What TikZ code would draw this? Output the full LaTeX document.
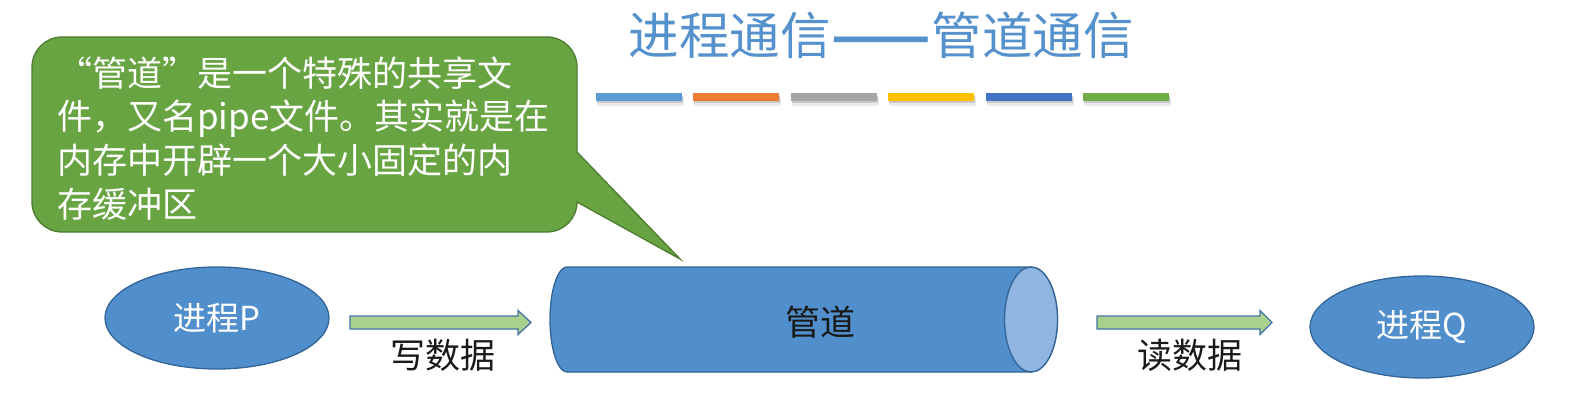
\documentclass[tikz,border=0pt]{standalone}
\usepackage{fontspec}
\usepackage{graphicx}
\setmainfont{Noto Sans CJK SC}
\usetikzlibrary{shapes.geometric}
\definecolor{titleblue}{RGB}{85,146,205}
\definecolor{pipeblue}{RGB}{80,142,204}
\definecolor{pipeborder}{RGB}{50,100,150}
\definecolor{capblue}{RGB}{143,181,224}
\definecolor{arrowgreen}{RGB}{169,209,142}
\definecolor{arrowborder}{RGB}{70,118,165}
\definecolor{callgreen}{RGB}{104,164,66}
\definecolor{callborder}{RGB}{78,124,48}
\definecolor{labelblack}{RGB}{25,25,25}
\definecolor{barblue}{RGB}{91,155,213}
\definecolor{barorange}{RGB}{237,125,49}
\definecolor{bargray}{RGB}{165,165,165}
\definecolor{baryellow}{RGB}{255,192,0}
\definecolor{bardarkblue}{RGB}{68,114,196}
\definecolor{bargreen}{RGB}{112,173,71}
\begin{document}
\begin{tikzpicture}[x=1pt,y=-1pt,
  proc/.style={ellipse, draw=pipeborder, line width=1.3pt, fill=pipeblue,
    minimum width=224pt, minimum height=102pt, inner sep=0pt, text=white,
    font=\fontsize{33}{36}\selectfont},
  lbl/.style={font=\fontsize{35}{40}\selectfont, text=labelblack, inner sep=0pt},
  calltext/.style={font=\fontsize{35}{40}\selectfont, text=white, inner sep=0pt, anchor=base west},
  blockarrow/.style={draw=arrowborder, line width=1.3pt, fill=arrowgreen, line join=miter},
  callout/.style={draw=callborder, line width=1.3pt, fill=callgreen, line join=miter},
  pipebody/.style={draw=pipeborder, line width=1.3pt, fill=pipeblue},
  pipecap/.style={draw=pipeborder, line width=1.3pt, fill=capblue}]
\useasboundingbox (0,0) rectangle (1586,406);
\fill[white] (0,0) rectangle (1586,406);

% title
\node[font=\fontsize{50.5}{55}\selectfont, text=titleblue, inner sep=0pt] (title) at (881,35)
  {进程通信\makebox[2em]{\scalebox{1.15}[1]{\bfseries——}}管道通信};

% colour bars
\foreach \c [count=\i from 0] in {barblue,barorange,bargray,baryellow,bardarkblue,bargreen} {
  \fill[black!8] (596+\i*97.4+1,97) rectangle ++(87,9);
  \fill[black!22] (596+\i*97.4+1,96) rectangle ++(86,7);
  \fill[\c] (596+\i*97.4,93) rectangle ++(86,8);
}

% callout
\draw[callout] (577,152) -- (577,67) arc[start angle=0,end angle=-90,radius=30]
  -- (62,37) arc[start angle=-90,end angle=-180,radius=30]
  -- (32,202) arc[start angle=180,end angle=90,radius=30]
  -- (547,232) arc[start angle=90,end angle=0,radius=30]
  -- (680,259) -- cycle;
\node[calltext] (l1) at (57,86.3) {\makebox[1em][r]{“}管道\makebox[1em][l]{”}是一个特殊的共享文};
\node[calltext] (l2) at (57,130) {件，又名pipe文件。其实就是在};
\node[calltext] (l3) at (57,173.7) {内存中开辟一个大小固定的内};
\node[calltext] (l4) at (57,217.4) {存缓冲区};

% processes
\node[proc] (P) at (217,318) {进程P};
\node[proc] (Q) at (1422,327) {进程Q};

% pipe
\draw[pipebody] (567,267) -- (1031,267) arc[start angle=-90,end angle=90,x radius=26.5,y radius=52.5]
  -- (567,372) arc[start angle=90,end angle=270,x radius=17,y radius=52.5] -- cycle;
\draw[pipecap] (1031,319.5) ellipse [x radius=26.5, y radius=52.5];
\node[lbl] (pipe) at (820,322) {管道};

% block arrows
\coordinate (w1) at (350,322.5);
\coordinate (r1) at (1097,322.5);
\draw[blockarrow] (w1) ++(0,-6.5) -- ++(168,0) -- ++(0,-5.5) -- ++(13,12) -- ++(-13,12) -- ++(0,-5.5) -- ++(-168,0) -- cycle;
\draw[blockarrow] (r1) ++(0,-6.5) -- ++(163,0) -- ++(0,-5.5) -- ++(12,12) -- ++(-12,12) -- ++(0,-5.5) -- ++(-163,0) -- cycle;
\node[lbl] (wlabel) at (443,355) {写数据};
\node[lbl] (rlabel) at (1190,355) {读数据};
\end{tikzpicture}
\end{document}
